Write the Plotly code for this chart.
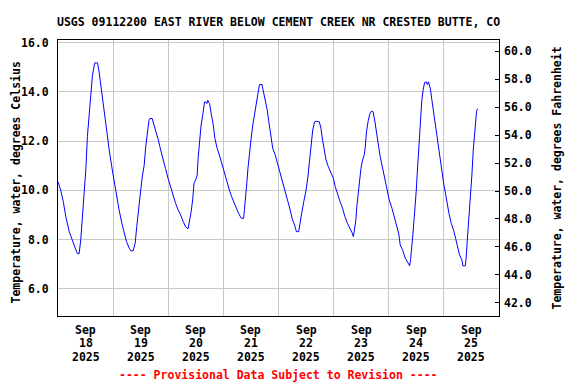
import plotly.graph_objects as go
import pandas as pd

site_title = "USGS 09112200 EAST RIVER BELOW CEMENT CREEK NR CRESTED BUTTE, CO"
left_title = "Temperature, water, degrees Celsius"
right_title = "Temperature, water, degrees Fahrenheit"
footer = "---- Provisional Data Subject to Revision ----"

start_time = "2025-09-18 00:00"
end_time = "2025-09-26 00:00"

# hours since start_time
hours = [0.0, 1.2, 2.3, 3.4, 4.9, 6.3, 7.5, 8.5, 9.2, 9.9, 10.7, 11.4, 12.1, 12.8, 13.6, 14.3,
         15.0, 16.0, 17.2, 17.9, 18.9, 20.1, 21.1, 22.3, 23.4, 24.4, 25.4, 26.6, 27.8, 28.8,
         29.8, 31.0, 31.7, 32.7, 33.6, 34.3, 35.0, 36.0, 36.8, 37.5, 38.2, 38.9, 39.6, 40.0,
         41.0, 41.8, 42.5, 43.5, 44.7, 45.7, 46.8, 47.9, 49.0, 50.2, 51.2, 52.3, 53.4, 54.5,
         55.5, 56.6, 57.3, 58.0, 58.7, 59.2, 59.9, 60.6, 61.0, 61.6, 62.3, 63.1, 63.8, 64.4,
         64.8, 65.2, 66.0, 66.7, 67.6, 68.3, 69.3, 70.5, 71.5, 72.5, 73.7, 74.8, 75.6, 76.6,
         77.6, 78.6, 79.8, 80.8, 81.2, 81.7, 82.2, 82.7, 83.4, 84.1, 84.8, 85.6, 86.3, 87.0,
         87.7, 88.8, 89.5, 90.3, 91.1, 91.7, 92.5, 93.5, 94.6, 95.7, 96.9, 97.9, 98.9, 100.1,
         101.1, 101.9, 103.0, 103.8, 104.8, 105.4, 106.1, 107.0, 108.0, 108.8, 109.5, 110.2,
         110.9, 111.7, 112.4, 113.8, 114.5, 115.2, 115.9, 116.7, 117.7, 118.8, 119.9, 120.7,
         121.7, 122.8, 123.9, 124.9, 126.1, 127.1, 128.0, 128.6, 129.1, 129.7, 130.1, 130.7,
         131.2, 131.9, 132.6, 133.3, 133.8, 134.3, 135.1, 135.8, 136.5, 137.2, 138.0, 138.7,
         139.6, 140.3, 141.3, 142.3, 143.2, 144.2, 145.4, 146.4, 147.4, 148.3, 149.0, 150.0,
         151.2, 152.2, 153.1, 153.5, 154.1, 154.5, 155.0, 155.5, 156.0, 156.4, 157.0, 157.4,
         157.9, 158.4, 159.0, 159.6, 160.3, 160.8, 161.3, 162.1, 162.8, 163.5, 164.2, 165.0,
         165.8, 166.6, 167.3, 168.0, 168.7, 169.4, 170.2, 171.2, 172.2, 173.1, 174.1, 174.8,
         175.8, 176.3, 177.3, 177.7, 178.1, 178.6, 179.2, 179.6, 180.2, 180.8, 181.3, 181.8,
         182.2, 182.6]

temp_c = [10.35, 10.00, 9.54, 8.93, 8.32, 7.92, 7.65, 7.42, 7.42, 7.99, 9.00, 9.88, 10.82, 12.18,
          13.12, 13.93, 14.68, 15.18, 15.18, 14.81, 14.07, 13.12, 12.31, 11.64, 10.96, 10.35,
          9.88, 9.20, 8.66, 8.26, 7.92, 7.65, 7.54, 7.54, 7.85, 8.53, 9.27, 10.00, 10.62, 11.00,
          11.77, 12.38, 12.85, 12.92, 12.92, 12.65, 12.45, 12.11, 11.64, 11.23, 10.89, 10.49,
          10.15, 9.74, 9.47, 9.20, 9.00, 8.73, 8.53, 8.43, 8.73, 9.14, 9.68, 10.28, 10.42, 10.62,
          11.30, 12.04, 12.65, 13.12, 13.59, 13.59, 13.53, 13.66, 13.53, 13.12, 12.65, 12.11,
          11.70, 11.36, 11.03, 10.62, 10.22, 9.95, 9.74, 9.50, 9.23, 9.07, 8.86, 8.86, 9.23, 9.68,
          10.28, 10.89, 11.64, 12.11, 12.65, 13.12, 13.59, 14.07, 14.30, 14.30, 14.00, 13.53,
          13.26, 12.85, 12.24, 11.70, 11.43, 11.03, 10.62, 10.35, 9.95, 9.54, 9.20, 8.86, 8.59,
          8.32, 8.32, 8.73, 9.07, 9.54, 10.00, 10.55, 11.16, 11.91, 12.45, 12.78, 12.81, 12.78,
          12.51, 12.04, 11.57, 11.23, 10.96, 10.69, 10.49, 10.15, 9.81, 9.54, 9.27, 8.93, 8.64,
          8.46, 8.28, 8.12, 8.39, 8.80, 9.34, 9.95, 10.49, 10.89, 11.23, 11.43, 11.77, 12.38,
          12.85, 13.12, 13.22, 13.19, 12.78, 12.24, 11.77, 11.36, 10.89, 10.42, 10.08, 9.61,
          9.27, 8.93, 8.59, 8.26, 7.78, 7.58, 7.24, 7.04, 6.93, 7.18, 7.65, 8.19, 8.80, 9.34,
          10.01, 10.69, 11.64, 12.31, 12.99, 13.66, 14.09, 14.38, 14.41, 14.30, 14.41, 14.14,
          13.66, 13.19, 12.72, 12.11, 11.64, 11.16, 10.69, 10.22, 9.88, 9.47, 9.07, 8.66, 8.39,
          8.05, 7.72, 7.38, 7.18, 6.93, 6.93, 7.24, 7.85, 8.46, 9.20, 9.95, 10.62, 11.64, 12.31,
          12.99, 13.19, 13.32]

label_dates = ["2025-09-18", "2025-09-19", "2025-09-20", "2025-09-21",
               "2025-09-22", "2025-09-23", "2025-09-24", "2025-09-25"]

c_ticks = [6, 8, 10, 12, 14, 16]
f_ticks = [42, 44, 46, 48, 50, 52, 54, 56, 58, 60]

times = pd.Timestamp(start_time) + pd.to_timedelta(hours, unit="h")
temp_f = [c * 9 / 5 + 32 for c in temp_c]
midnights = pd.date_range(start_time, end_time, freq="D")

FONT = "DejaVu Sans Mono"
FS = 11.5
BOLD = dict(family=FONT, size=FS, color="black", weight="bold")

# page offset (browser body margin) compensation
OFF = 8
W, H = 576 - OFF, 384 - OFF
ML, MR, MT, MB = 58 - OFF, 77, 40 - OFF, 68
pw, ph = W - ML - MR, H - MT - MB


def px_to_paper(px, py):
    """page pixel -> paper coords"""
    fx, fy = px - OFF, py - OFF
    return (fx - ML) / pw, (H - MB - fy) / ph


fig = go.Figure()
fig.add_trace(go.Scatter(x=times, y=temp_c, mode="lines",
                         line=dict(color="#0000FF", width=1), showlegend=False))
fig.add_trace(go.Scatter(x=times, y=temp_f, mode="lines", yaxis="y2",
                         line=dict(color="rgba(0,0,0,0)", width=0),
                         hoverinfo="skip", showlegend=False))

annotations = []
row_shift = [-13.5, -27, -40.5]
for d in label_dates:
    ts = pd.Timestamp(d) + pd.Timedelta(hours=12)
    rows = [ts.strftime("%b"), ts.strftime("%d"), ts.strftime("%Y")]
    for i, txt in enumerate(rows):
        annotations.append(dict(x=ts, y=0, xref="x", yref="paper", text=txt,
                                showarrow=False, yanchor="middle", xanchor="center",
                                yshift=row_shift[i], borderpad=0, font=BOLD))

lx, ly = px_to_paper(15.5, 183)
annotations.append(dict(x=lx, y=ly, xref="paper", yref="paper", text=left_title,
                        showarrow=False, textangle=-90, xanchor="center",
                        yanchor="middle", borderpad=0, font=BOLD))
rx, ry = px_to_paper(556.5, 178)
annotations.append(dict(x=rx, y=ry, xref="paper", yref="paper", text=right_title,
                        showarrow=False, textangle=-90, xanchor="center",
                        yanchor="middle", borderpad=0, font=BOLD))
annotations.append(dict(x=0.5, y=0, xref="paper", yref="paper", text=footer,
                        showarrow=False, yanchor="middle", yshift=-59,
                        font=dict(family=FONT, size=FS, color="#FF0000", weight="bold")))

tx, ty = px_to_paper(278.5, 22)
annotations.append(dict(x=tx, y=ty, xref="paper", yref="paper", text=site_title,
                        showarrow=False, xanchor="center", yanchor="middle", font=BOLD))

fig.update_layout(
    width=W, height=H,
    margin=dict(l=ML, r=MR, t=MT, b=MB),
    paper_bgcolor="white", plot_bgcolor="white",
    font=BOLD,
    xaxis=dict(type="date", range=[start_time, end_time],
               tickmode="array", tickvals=midnights, showticklabels=False,
               ticks="", showgrid=True, gridcolor="#C8C8C8", gridwidth=1,
               showline=True, linecolor="black", linewidth=1, mirror=True, zeroline=False),
    yaxis=dict(range=[4.89, 16.11], tickmode="array", tickvals=c_ticks,
               tickformat=".1f", ticks="", ticklabelstandoff=6,
               showgrid=True, gridcolor="#C8C8C8", gridwidth=1,
               showline=True, linecolor="black", linewidth=1, mirror=True, zeroline=False),
    yaxis2=dict(range=[41.06, 60.80], overlaying="y", side="right",
                tickmode="array", tickvals=f_ticks,
                tickformat=".1f", ticks="inside", ticklen=4, tickcolor="black",
                ticklabelstandoff=4, showgrid=False, showline=False, zeroline=False),
    annotations=annotations,
)

fig.write_html("out.html")
